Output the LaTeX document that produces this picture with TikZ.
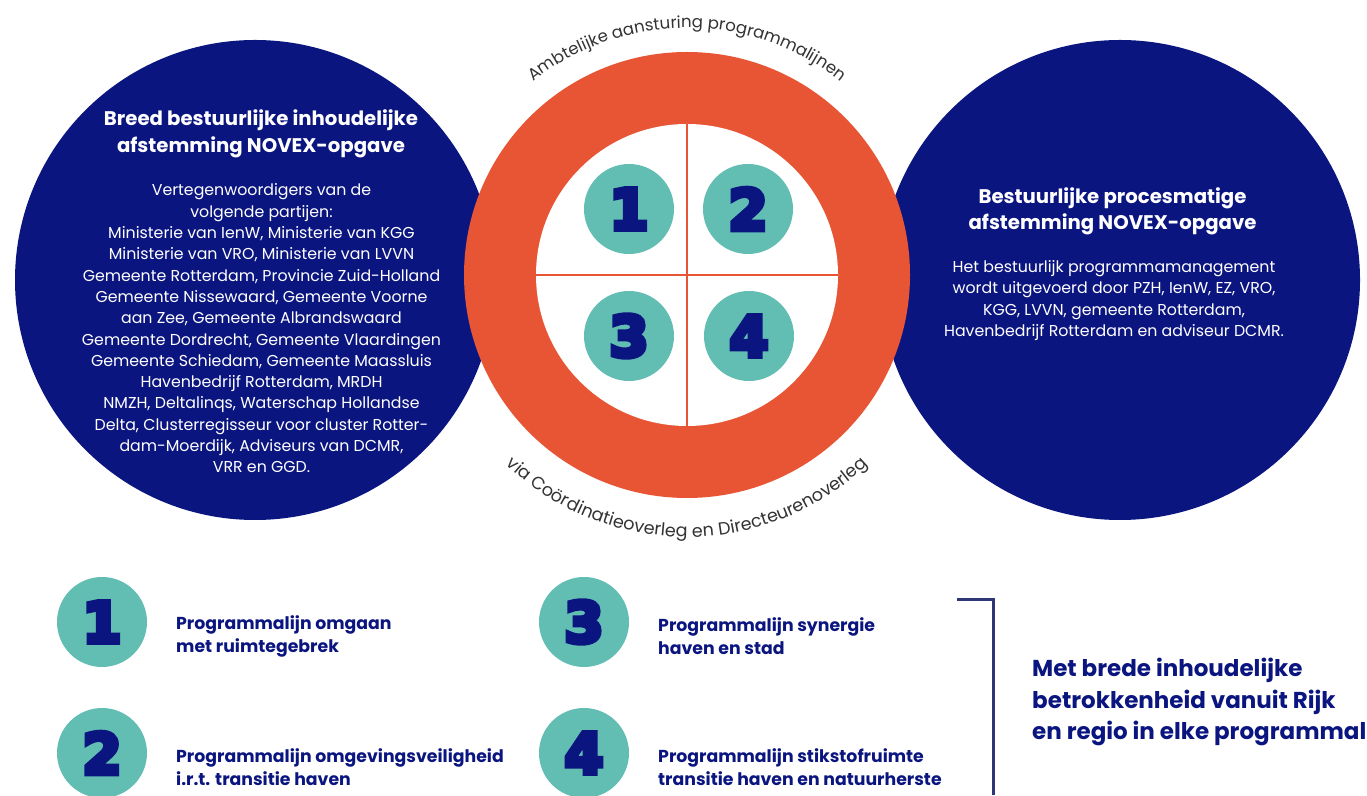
\documentclass[tikz,border=0pt]{standalone}
\usepackage{fontspec}
\setmainfont{Poppins}
\newfontfamily\curvefont{Poppins}
\newfontfamily\digitfont{DejaVu Sans Bold}[FakeBold=9]
\usetikzlibrary{decorations.text}
\definecolor{navy}{HTML}{0B1580}
\definecolor{brandorange}{HTML}{E85535}
\definecolor{numteal}{HTML}{62BDB3}
\definecolor{curvegray}{HTML}{333333}
\definecolor{bracketcol}{HTML}{2E3676}
\begin{document}
\begin{tikzpicture}[x=1pt,y=1pt,
  bigdisc/.style={circle, fill=navy, minimum size=480pt, inner sep=0pt},
  numdisc/.style={circle, fill=numteal, minimum size=90pt, inner sep=0pt, text=navy,
    font=\digitfont\fontsize{56}{56}\selectfont},
  headtext/.style={text=white, align=center, inner sep=0pt, font=\bfseries\fontsize{19.7}{26.5}\selectfont},
  bodytext/.style={text=white, align=center, inner sep=0pt, font=\fontsize{15.8}{21.3}\selectfont},
  legendtext/.style={anchor=west, text=navy, align=left, inner sep=0pt, font=\bfseries\fontsize{17.3}{23}\selectfont},
  curvetext/.style={decorate, decoration={text along path, text align=center, text color=curvegray}}
]
\fill[white] (0,0) rectangle (1367,795);
\useasboundingbox (0,0) rectangle (1367,795);

% big navy circles
\node[bigdisc] (left) at (255,515) {};
\node[bigdisc] (right) at (1120,515) {};

% orange ring and white centre
\node[circle, fill=brandorange, minimum size=446pt, inner sep=0pt] (ring) at (687,520) {};
\node[circle, fill=white, minimum size=302pt, inner sep=0pt] (inner) at (687,520) {};
\draw[brandorange, line width=1.6pt] (inner.north) -- (inner.south);
\draw[brandorange, line width=1.6pt] (inner.west) -- (inner.east);

% numbered discs in the centre
\node[numdisc] (c1) at (629,586) {1};
\node[numdisc] (c2) at (748,586) {2};
\node[numdisc] (c3) at (629,459) {3};
\node[numdisc] (c4) at (749,459) {4};

% curved texts
\path[curvetext, decoration={text={|\curvefont\fontsize{16.6}{18}\selectfont|Ambtelijke aansturing programmalijnen}}]
  (ring.center) ++(155:247) arc[start angle=155, end angle=25, radius=247];
\path[curvetext, decoration={text={|\curvefont\fontsize{17.6}{18}\selectfont|via Coördinatieoverleg en Directeurenoverleg}}]
  (ring.center) ++(200:262) arc[start angle=200, end angle=340, radius=262];

% left circle text
\node[headtext] (lt) at (261,661) {Breed bestuurlijke inhoudelijke\\afstemming NOVEX-opgave};
\node[bodytext] (lb) at (261.5,466.5) {Vertegenwoordigers van de\\volgende partijen:\\Ministerie van IenW, Ministerie van KGG\\Ministerie van VRO, Ministerie van LVVN\\Gemeente Rotterdam, Provincie Zuid-Holland\\Gemeente Nissewaard, Gemeente Voorne\\aan Zee, Gemeente Albrandswaard\\Gemeente Dordrecht, Gemeente Vlaardingen\\Gemeente Schiedam, Gemeente Maassluis\\Havenbedrijf Rotterdam, MRDH\\NMZH, Deltalinqs, Waterschap Hollandse\\Delta, Clusterregisseur voor cluster Rotter-\\dam-Moerdijk, Adviseurs van DCMR,\\VRR en GGD.};

% right circle text
\node[headtext] (rt) at (1112.5,583.5) {Bestuurlijke procesmatige\\afstemming NOVEX-opgave};
\node[bodytext] (rb) at (1114,494.5) {Het bestuurlijk programmamanagement\\wordt uitgevoerd door PZH, IenW, EZ, VRO,\\KGG, LVVN, gemeente Rotterdam,\\Havenbedrijf Rotterdam en adviseur DCMR.};

% legend
\node[numdisc] (l1) at (102,173) {1};
\node[numdisc] (l2) at (102,42) {2};
\node[numdisc] (l3) at (584,173) {3};
\node[numdisc] (l4) at (584,42) {4};
\node[legendtext] (t1) at (176,159) {Programmalijn omgaan\\met ruimtegebrek};
\node[legendtext] (t2) at (176,28) {Programmalijn omgevingsveiligheid\\i.r.t. transitie haven};
\node[legendtext] (t3) at (658,159) {Programmalijn synergie\\haven en stad};
\node[legendtext] (t4) at (658,28) {Programmalijn stikstofruimte\\transitie haven en natuurherste};

% bracket and note
\coordinate (b1) at (957,195);
\coordinate (b2) at (993,195);
\coordinate (b3) at (993,0);
\draw[bracketcol, line width=3pt] (b1) -- (b2) -- (b3);
\node[anchor=west, text=navy, align=left, inner sep=0pt, font=\bfseries\fontsize{23}{31.5}\selectfont] (note) at (1032,93) {Met brede inhoudelijke\\betrokkenheid vanuit Rijk\\en regio in elke programmal};
\end{tikzpicture}
\end{document}
